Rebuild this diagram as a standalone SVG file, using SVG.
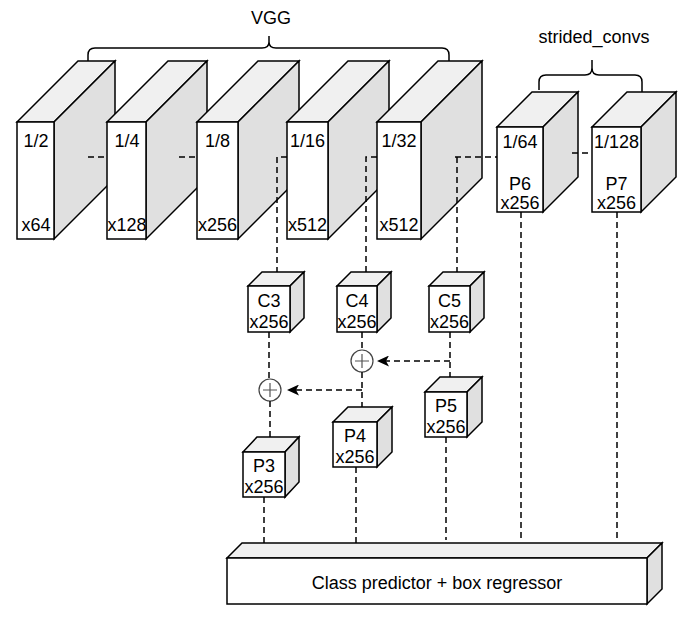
<svg xmlns="http://www.w3.org/2000/svg" width="694" height="619" viewBox="0 0 694 619">
<style>
.f{fill:#ffffff;stroke:#000;stroke-width:1.5;stroke-linejoin:miter}
.t{fill:#f0f0f0;stroke:#000;stroke-width:1.5;stroke-linejoin:miter}
.s{fill:#e0e0e0;stroke:#000;stroke-width:1.5;stroke-linejoin:miter}
text{font-family:"Liberation Sans",Arial,sans-serif;font-size:18px;fill:#000;text-anchor:middle}
.d{fill:none;stroke:#000;stroke-width:1.5;stroke-dasharray:6 4}
.br{fill:none;stroke:#000;stroke-width:1.5}
.op{fill:#fff;stroke:#444;stroke-width:1.2}
</style>
<defs>
<marker id="arr" markerWidth="12" markerHeight="11" viewBox="0 0 12 11" refX="3" refY="5.5" orient="auto" markerUnits="userSpaceOnUse">
<path d="M12,5.5 L0,0 L3,5.5 L0,11 Z" fill="#000" stroke="none"/>
</marker>
</defs>
<rect width="694" height="619" fill="#fff"/>

<g id="braces">
<path class="br" d="M88,61 V55 Q88,48 95,48 H262 Q269,48 269,42 V36 M269,36 V42 Q269,48 276,48 H442 Q449,48 449,55 V61"/>
<text x="271" y="24">VGG</text>
<path class="br" d="M539,90 V82 Q539,75 546,75 H585 Q592,75 592,68 V60 M592,60 V68 Q592,75 599,75 H635 Q642,75 642,82 V92"/>
<text x="594" y="43">strided_convs</text>
</g>

<g id="vgg1">
<polygon class="t" points="17,122 78,61 115,61 54,122"/>
<polygon class="s" points="54,122 115,61 115,178 54,239"/>
<rect class="f" x="17" y="122" width="37" height="117"/>
<text x="36" y="147">1/2</text><text x="36" y="231">x64</text>
</g>
<g id="vgg2">
<polygon class="t" points="107,122 168,61 207,61 146,122"/>
<polygon class="s" points="146,122 207,61 207,178 146,239"/>
<rect class="f" x="107" y="122" width="39" height="117"/>
<text x="127" y="147">1/4</text><text x="127" y="231">x128</text>
</g>
<g id="vgg3">
<polygon class="t" points="197,122 258,61 299,61 238,122"/>
<polygon class="s" points="238,122 299,61 299,178 238,239"/>
<rect class="f" x="197" y="122" width="41" height="117"/>
<text x="217.5" y="147">1/8</text><text x="217.5" y="231">x256</text>
</g>
<g id="vgg4">
<polygon class="t" points="287,122 348,61 389,61 328,122"/>
<polygon class="s" points="328,122 389,61 389,178 328,239"/>
<rect class="f" x="287" y="122" width="41" height="117"/>
<text x="307.5" y="147">1/16</text><text x="307.5" y="231">x512</text>
</g>
<g id="vgg5">
<polygon class="t" points="377,122 438,61 482,61 421,122"/>
<polygon class="s" points="421,122 482,61 482,178 421,239"/>
<rect class="f" x="377" y="122" width="44" height="117"/>
<text x="399" y="147">1/32</text><text x="399" y="231">x512</text>
</g>

<g id="p6">
<polygon class="t" points="497,127 532,92 578,92 543,127"/>
<polygon class="s" points="543,127 578,92 578,177 543,212"/>
<rect class="f" x="497" y="127" width="46" height="85"/>
<text x="520" y="148">1/64</text><text x="520" y="190">P6</text><text x="520" y="209">x256</text>
</g>
<g id="p7">
<polygon class="t" points="592,127 627,92 676,92 641,127"/>
<polygon class="s" points="641,127 676,92 676,177 641,212"/>
<rect class="f" x="592" y="127" width="49" height="85"/>
<text x="616.5" y="148">1/128</text><text x="616.5" y="190">P7</text><text x="616.5" y="209">x256</text>
</g>

<g id="c3">
<polygon class="t" points="248,286 262,272 304,272 290,286"/>
<polygon class="s" points="290,286 304,272 304,318 290,332"/>
<rect class="f" x="248" y="286" width="42" height="46"/>
<text x="269" y="307">C3</text><text x="269" y="328">x256</text>
</g>
<g id="c4">
<polygon class="t" points="337,286 351,272 391,272 377,286"/>
<polygon class="s" points="377,286 391,272 391,318 377,332"/>
<rect class="f" x="337" y="286" width="40" height="46"/>
<text x="357" y="307">C4</text><text x="357" y="328">x256</text>
</g>
<g id="c5">
<polygon class="t" points="429,286 443,272 484,272 470,286"/>
<polygon class="s" points="470,286 484,272 484,318 470,332"/>
<rect class="f" x="429" y="286" width="41" height="46"/>
<text x="449.5" y="307">C5</text><text x="449.5" y="328">x256</text>
</g>
<g id="p5">
<polygon class="t" points="425,392 440,377 482,377 467,392"/>
<polygon class="s" points="467,392 482,377 482,422 467,437"/>
<rect class="f" x="425" y="392" width="42" height="45"/>
<text x="446" y="412">P5</text><text x="446" y="433">x256</text>
</g>
<g id="p4">
<polygon class="t" points="333,422 348,407 392,407 377,422"/>
<polygon class="s" points="377,422 392,407 392,452 377,467"/>
<rect class="f" x="333" y="422" width="44" height="45"/>
<text x="355" y="442">P4</text><text x="355" y="463">x256</text>
</g>
<g id="p3">
<polygon class="t" points="243,452 257,437 299,437 285,452"/>
<polygon class="s" points="285,452 299,437 299,482 285,497"/>
<rect class="f" x="243" y="452" width="42" height="45"/>
<text x="264" y="472">P3</text><text x="264" y="493">x256</text>
</g>

<g id="sum4">
<circle class="op" cx="362" cy="361" r="11"/>
<path d="M355,361 H369 M362,354 V368" stroke="#555" stroke-width="1.2"/>
</g>
<g id="sum3">
<circle class="op" cx="270" cy="390" r="11"/>
<path d="M263,390 H277 M270,383 V397" stroke="#555" stroke-width="1.2"/>
</g>

<g id="head">
<polygon class="t" points="227,558 242,543 662,543 647,558"/>
<polygon class="s" points="647,558 662,543 662,589 647,604"/>
<rect class="f" x="227" y="558" width="420" height="46"/>
<text x="437" y="589">Class predictor + box regressor</text>
</g>

<g id="connectors">
<path class="d" d="M88,157 H107"/>
<path class="d" d="M179,157 H197"/>
<path class="d" d="M287,157 H277 V272"/>
<path class="d" d="M377,157 H366 V272"/>
<path class="d" d="M455,157 H497"/>
<path class="d" d="M457,157 V272"/>
<path class="d" d="M572,153 H592"/>
<path class="d" d="M269,332 V379"/>
<path class="d" d="M270,401 V437"/>
<path class="d" d="M362,332 V350"/>
<path class="d" d="M362,372 V407"/>
<path class="d" d="M450,332 V377"/>
<path class="d" d="M450,361 H386" marker-end="url(#arr)"/>
<path class="d" d="M362,390 H296" marker-end="url(#arr)"/>
<path class="d" d="M264,497 V543"/>
<path class="d" d="M356,467 V543"/>
<path class="d" d="M446,437 V540"/>
<path class="d" d="M521,212 V540"/>
<path class="d" d="M617,212 V540"/>
</g>
</svg>
